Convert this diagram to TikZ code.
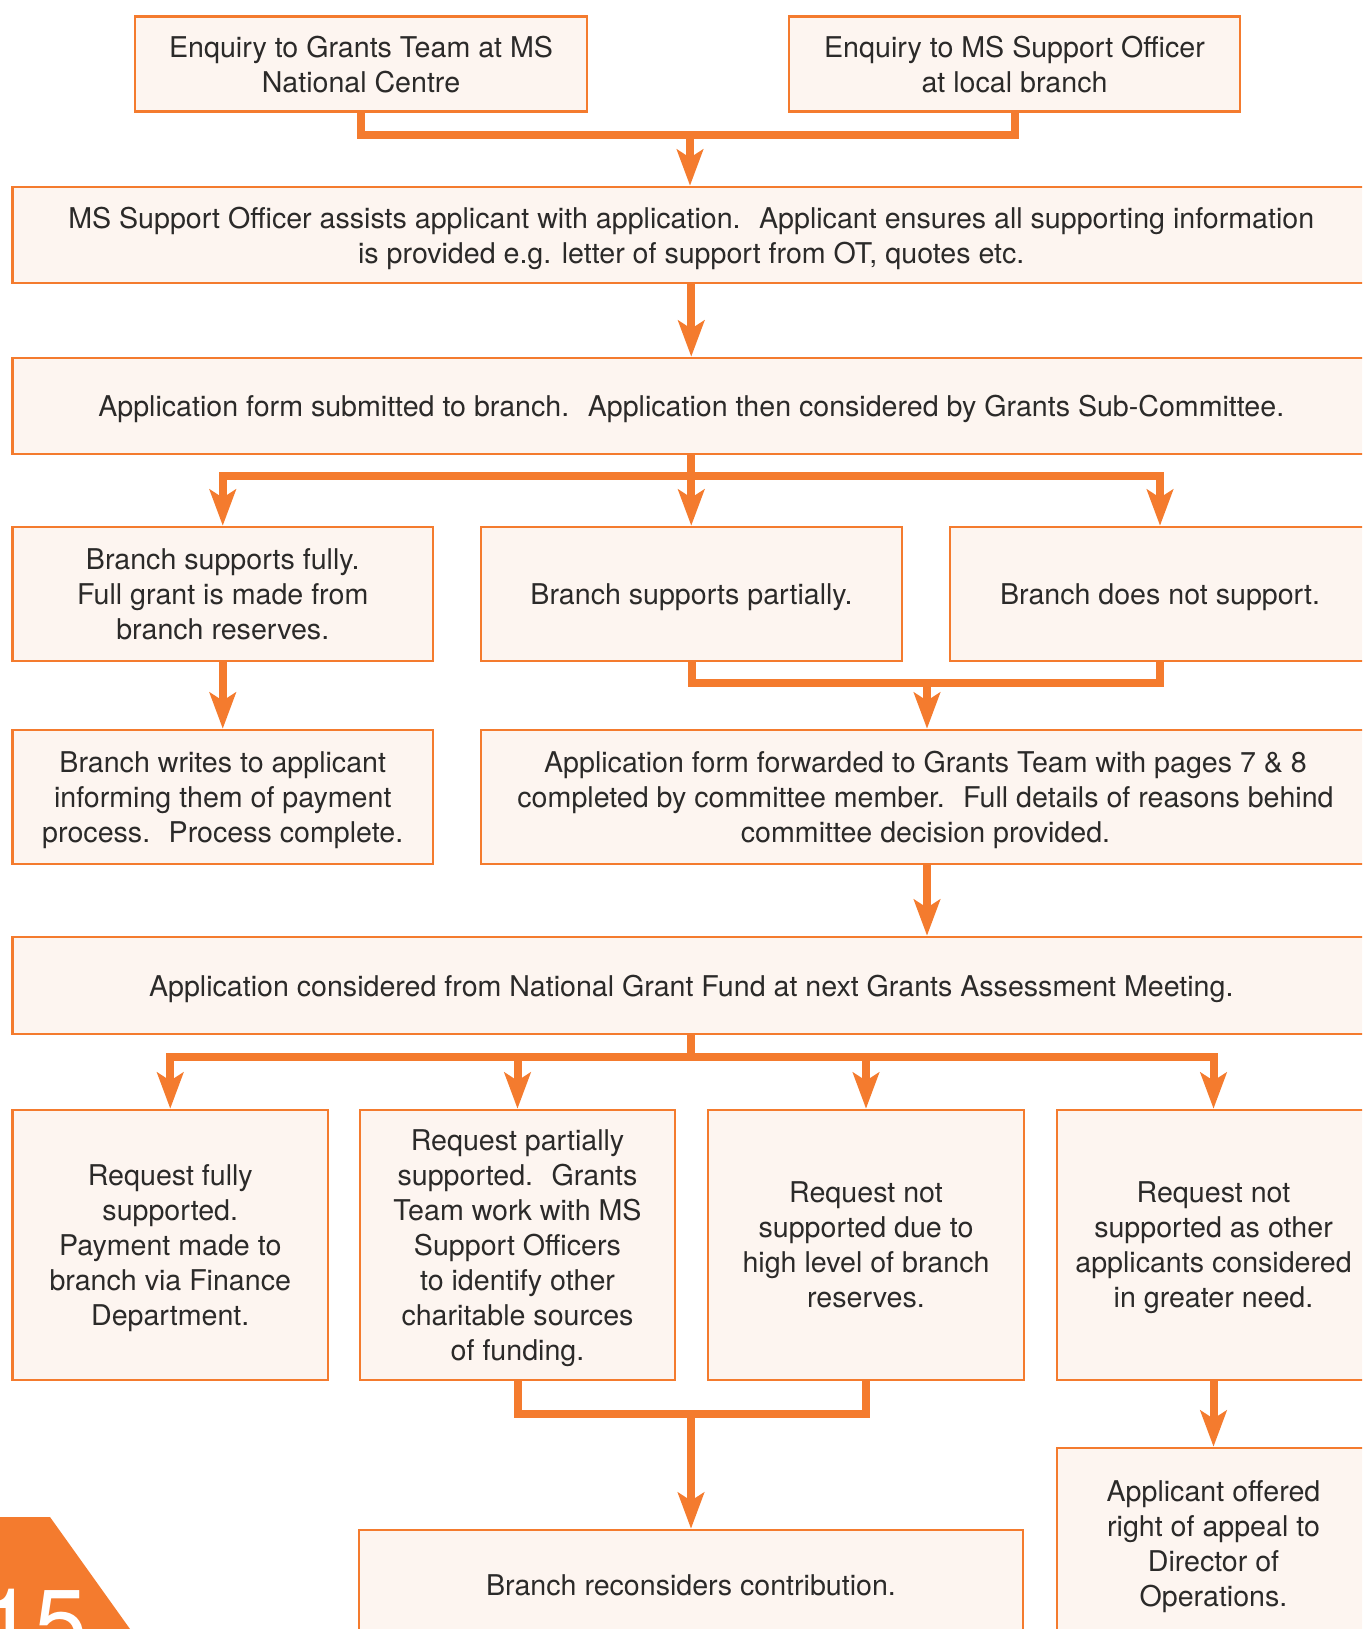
\documentclass[tikz,border=0pt]{standalone}
\usepackage{fontspec}
\setmainfont{TeX Gyre Heros}
\usetikzlibrary{arrows.meta,calc}
\definecolor{msorange}{HTML}{F47B2E}
\definecolor{msfill}{HTML}{FDF5F0}
\definecolor{mstext}{HTML}{2B2A29}
\tikzset{
  box/.style={draw=msorange, line width=2.5pt, fill=msfill, inner sep=0pt,
    text=mstext, align=center, font=\fontsize{28.6}{35}\selectfont, text depth=-2pt},
  conn/.style={draw=msorange, line width=8pt, line join=miter},
  arr/.style={conn, -{Stealth[length=36pt, width=26pt, inset=8pt]}},
}
\begin{document}
\begin{tikzpicture}[x=1pt, y=-1pt]
\useasboundingbox (0,0) rectangle (1362,1629);
\clip (0,0) rectangle (1362,1629);
\fill[white] (0,0) rectangle (1362,1629);

% top row
\node[box, minimum width=452pt, minimum height=95pt] (A) at (361,64) {Enquiry to Grants Team at MS\\National Centre};
\node[box, minimum width=451pt, minimum height=95pt] (B) at (1014.5,64) {Enquiry to MS Support Officer\\at local branch};

\node[box, minimum width=1357.5pt, minimum height=96pt] (C) at (691.25,235) {MS Support Officer assists applicant with application.~ Applicant ensures all supporting information\\is provided e.g. letter of support from OT, quotes etc.};

\node[box, minimum width=1357.5pt, minimum height=96pt] (D) at (691.25,406) {Application form submitted to branch.~ Application then considered by Grants Sub-Committee.};

\node[box, minimum width=420.5pt, minimum height=134pt] (E1) at (222.75,594) {Branch supports fully.\\Full grant is made from\\branch reserves.};
\node[box, minimum width=421pt, minimum height=134pt] (E2) at (691.5,594) {Branch supports partially.};
\node[box, minimum width=420pt, minimum height=134pt] (E3) at (1160,594) {Branch does not support.};

\node[box, minimum width=420.5pt, minimum height=134pt] (F1) at (222.75,797) {Branch writes to applicant\\informing them of payment\\process.~ Process complete.};
\node[box, minimum width=889pt, minimum height=134pt] (F2) at (925.5,797) {Application form forwarded to Grants Team with pages 7 \& 8\\completed by committee member.~ Full details of reasons behind\\committee decision provided.};

\node[box, minimum width=1357.5pt, minimum height=97pt] (G) at (691.25,985.5) {Application considered from National Grant Fund at next Grants Assessment Meeting.};

\node[box, minimum width=315.5pt, minimum height=270pt] (H1) at (170.25,1245) {Request fully\\supported.\\Payment made to\\branch via Finance\\Department.};
\node[box, minimum width=315pt, minimum height=270pt] (H2) at (517.5,1245) {Request partially\\supported.~ Grants\\Team work with MS\\Support Officers\\to identify other\\charitable sources\\of funding.};
\node[box, minimum width=316pt, minimum height=270pt] (H3) at (866,1245) {Request not\\supported due to\\high level of branch\\reserves.};
\node[box, minimum width=313pt, minimum height=270pt] (H4) at (1213.5,1245) {Request not\\supported as other\\applicants considered\\in greater need.};

\node[box, minimum width=664pt, minimum height=110pt] (I) at (691,1585) {Branch reconsiders contribution.};
\node[box, minimum width=313pt, minimum height=192pt] (J) at (1213.5,1544) {Applicant offered\\right of appeal to\\Director of\\Operations.};

% connectors
\coordinate (jAB) at (690,135);
\draw[conn] (A.south) |- (jAB) -| (B.south);
\draw[arr] (jAB) -- (jAB |- C.north);

\draw[arr] (C.south) -- (D.north);

\coordinate (jD) at (691.25,476);
\draw[conn] (D.south) -- (jD);
\draw[arr] (jD) -| (E1.north);
\draw[arr] (jD) -- (jD |- E2.north);
\draw[arr] (jD) -| (E3.north);

\draw[arr] (E1.south) -- (F1.north);

\coordinate (jE) at (927,683);
\draw[conn] (E2.south) |- (jE) -| (E3.south);
\draw[arr] (jE) -- (jE |- F2.north);

\draw[arr] (jE |- F2.south) -- (jE |- G.north);

\coordinate (jG) at (691.25,1057);
\draw[conn] (G.south) -- (jG);
\draw[arr] (jG) -| (H1.north);
\draw[arr] (jG) -| (H2.north);
\draw[arr] (jG) -| (H3.north);
\draw[arr] (jG) -| (H4.north);

\coordinate (jH) at (691,1414);
\draw[conn] (H2.south) |- (jH) -| (H3.south);
\draw[arr] (jH) -- (jH |- I.north);

\draw[arr] (H4.south) -- (J.north);

% page number tab
\fill[msorange] (0,1517) -- (50,1517) -- (140,1643) -- (0,1643) -- cycle;
\node[font=\fontsize{95}{95}\selectfont, text=white, anchor=base west, inner sep=0pt] (pg) at (-19,1656) {15};
\end{tikzpicture}
\end{document}
